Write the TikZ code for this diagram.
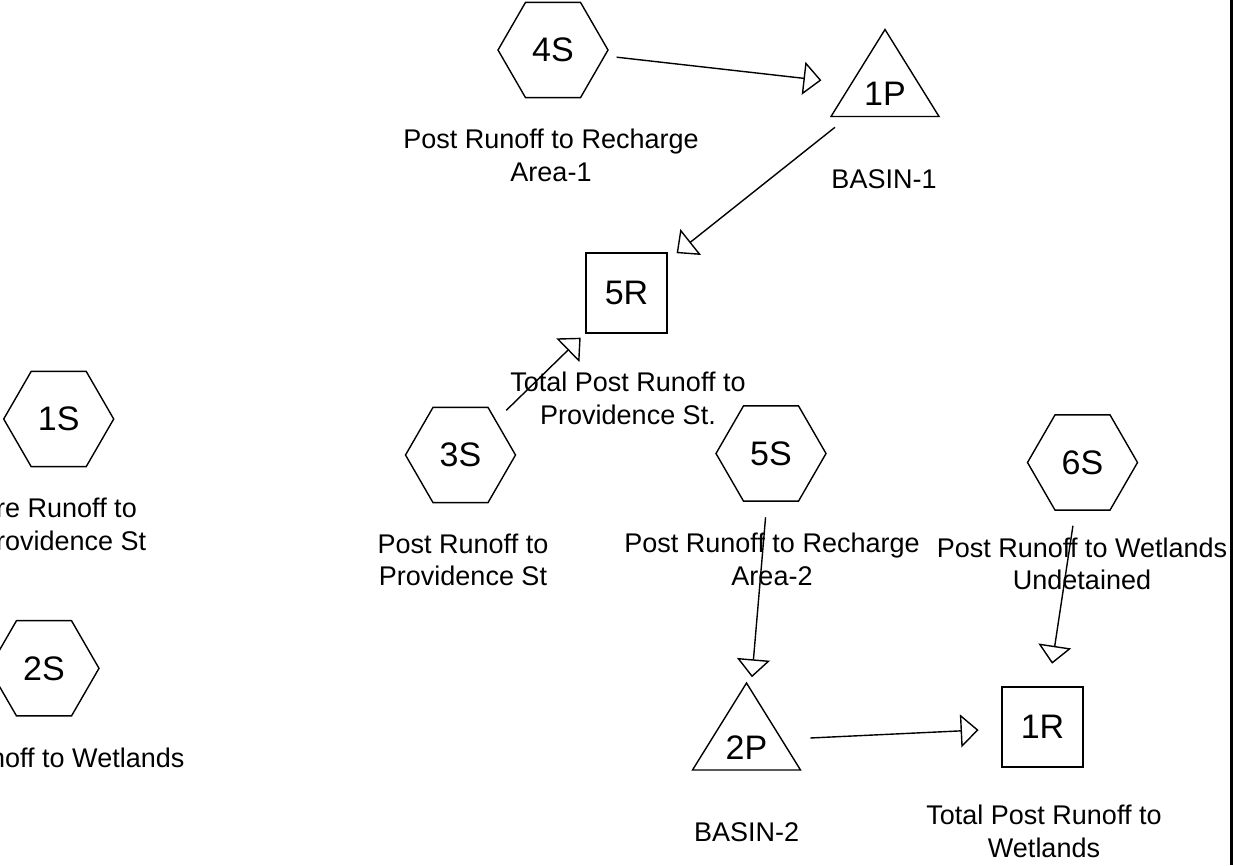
\documentclass[tikz,border=0pt]{standalone}
\usepackage{fontspec}
\setmainfont{Liberation Sans}
\usetikzlibrary{arrows.meta,shapes.geometric}

\begin{document}
\begin{tikzpicture}[x=1pt,y=-1pt,
  outline/.style={line width=1.4pt},
  hexa/.style={outline, draw, regular polygon, regular polygon sides=6,
    minimum size=110pt, inner sep=0pt, font=\fontsize{34}{40}\selectfont},
  reach/.style={outline, draw, rectangle, minimum width=81pt, minimum height=80pt,
    inner sep=0pt, font=\fontsize{34}{40}\selectfont},
  pond/.style={inner sep=0pt, text height=36.4pt, text depth=0pt,
    font=\fontsize{34}{40}\selectfont},
  lbl/.style={align=center, inner sep=0pt, anchor=base,
    font=\fontsize{27}{32.5}\selectfont},
  flow/.style={outline, -{Triangle[open, length=18pt, width=33pt]},
    shorten <=64pt, shorten >=64pt}
]
\fill[white] (0,0) rectangle (1233,865);
\useasboundingbox (0,0) rectangle (1233,865);
\clip (0,0) rectangle (1233,865);

% subcatchments
\node[hexa] (4S) at (553,50) {4S};
\node[hexa] (3S) at (460.5,455) {3S};
\node[hexa] (5S) at (771,453.5) {5S};
\node[hexa] (6S) at (1082.5,462.5) {6S};
\node[hexa] (1S) at (58.7,419) {1S};
\node[hexa] (2S) at (44,668.3) {2S};

% reaches
\node[reach] (5R) at (626.5,293) {5R};
\node[reach] (1R) at (1042.5,727) {1R};

% ponds
\node[pond] (1P) at (885,87.5) {1P};
\draw[outline] (1P.center) ++(0,-58) -- ++(54,87) -- ++(-108,0) -- cycle;
\node[pond] (2P) at (746.5,741) {2P};
\draw[outline] (2P.center) ++(0,-58) -- ++(54,87) -- ++(-108,0) -- cycle;

% labels (anchor base = baseline of the last line)
\node[lbl] (l4S) at (551,181) {Post Runoff to Recharge\\Area-1};
\node[lbl] (l1P) at (884,188) {BASIN-1};
\node[lbl] (l5R) at (628,424.3) {Total Post Runoff to\\Providence St.};
\node[lbl] (l3S) at (463,585.7) {Post Runoff to\\Providence St};
\node[lbl] (l5S) at (772,585) {Post Runoff to Recharge\\Area-2};
\node[lbl] (l6S) at (1082,589.5) {Post Runoff to Wetlands\\Undetained};
\node[lbl, align=left, anchor=base west] (l1S) at (-4,550) {re Runoff to\\rovidence St};
\node[lbl, anchor=base east] (l2S) at (184.5,767.3) {noff to Wetlands};
\node[lbl] (l2P) at (746.7,841.7) {BASIN-2};
\node[lbl] (l1R) at (1044,857.3) {Total Post Runoff to\\Wetlands};

% flows
\draw[flow] (4S.center) -- (1P.center);
\draw[flow] (1P.center) -- (5R.center);
\draw[flow] (3S.center) -- (5R.center);
\draw[flow] (5S.center) -- (2P.center);
\draw[flow] (6S.center) -- (1R.center);
\draw[flow] (2P.center) -- (1R.center);

% right border
\draw[line width=3pt] (1231,0) -- (1231,865);
\end{tikzpicture}
\end{document}
